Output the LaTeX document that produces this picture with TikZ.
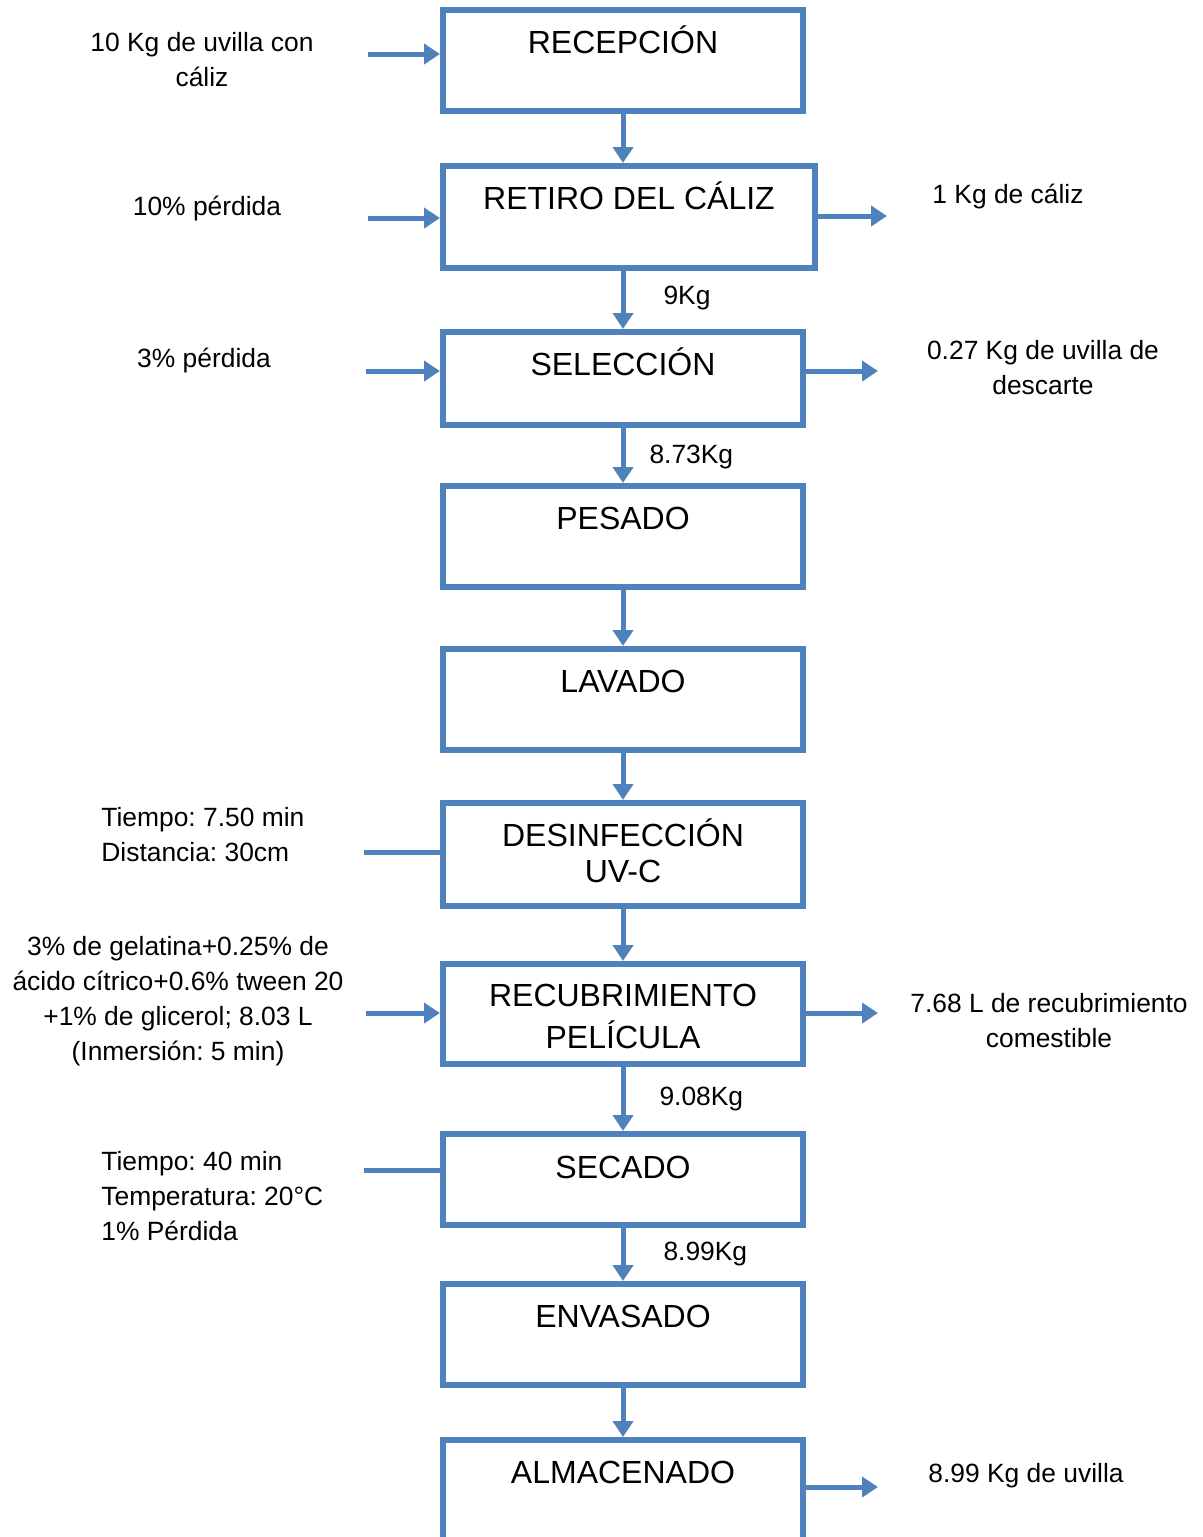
\documentclass[tikz,border=0pt]{standalone}
\usepackage{fontspec}
\setmainfont{Liberation Sans}
\usepackage{tikz}
\usetikzlibrary{arrows.meta,positioning}
\definecolor{flowblue}{HTML}{4F81BD}
\newcommand{\titlefont}{\fontsize{16}{18}\selectfont}
\newcommand{\sidefont}{\fontsize{13.2}{17.5}\selectfont}
\frenchspacing

\begin{document}
\begin{tikzpicture}[x=0.5pt,y=-0.5pt,
  box/.style={draw=flowblue,line width=3pt,minimum width=180pt,minimum height=50.5pt},
  title/.style={font=\titlefont,align=center,inner sep=0pt,text height=0.716em,anchor=north,yshift=0.358em-2pt},
  mtitle/.style={font=\titlefont,align=center,inner sep=0pt,anchor=base,yshift=-0.358em-1.5pt},
  side/.style={font=\sidefont,align=center,inner sep=0pt,text height=0.716em,anchor=north,yshift=0.358em-1pt},
  mside/.style={font=\sidefont,align=center,inner sep=0pt,anchor=base,yshift=-0.358em-1pt},
  msideleft/.style={mside,align=left,anchor=base west},
  wt/.style={font=\sidefont,inner sep=0pt,anchor=west},
  arr/.style={draw=flowblue,line width=2.5pt,-{Triangle[length=8pt,width=10pt]}},
  ln/.style={draw=flowblue,line width=2.5pt}
]
\useasboundingbox (0,0) rectangle (1203,1537);

% process boxes
\node[box] (recep) at (623,60.5) {};
\node[box,minimum width=186pt,minimum height=51pt] (retiro) at (629,217) {};
\node[box,minimum height=46.5pt] (selec) at (623,378.5) {};
\node[box] (pesado) at (623,536.5) {};
\node[box] (lavado) at (623,699.5) {};
\node[box,minimum height=51.5pt] (desinf) at (623,854.5) {};
\node[box,minimum height=50pt] (recub) at (623,1014) {};
\node[box,minimum height=45.5pt] (secado) at (623,1179.5) {};
\node[box] (envas) at (623,1334.5) {};
\node[box,minimum height=100pt] (almac) at (623,1540) {};

% box titles (multi-line ones placed by their last line)
\node[title] at (623,42) {RECEPCIÓN};
\node[title] at (629,198) {RETIRO DEL CÁLIZ};
\node[title] at (623,364) {SELECCIÓN};
\node[title] at (623,518) {PESADO};
\node[title] at (623,681) {LAVADO};
\node[mtitle] at (623,872) {DESINFECCIÓN\\UV-C};
\node[mtitle,font=\fontsize{16}{21}\selectfont] at (623,1038) {RECUBRIMIENTO\\PELÍCULA};
\node[title] at (623,1167) {SECADO};
\node[title] at (623,1316) {ENVASADO};
\node[title] at (623,1472) {ALMACENADO};

% main flow
\draw[arr] (recep.south) -- (recep.south |- retiro.north);
\draw[arr] (retiro.south -| selec) -- node[wt,right=19pt,yshift=1pt]{9Kg} (selec.north);
\draw[arr] (selec) -- node[wt,right=12pt,yshift=-1pt]{8.73Kg} (pesado);
\draw[arr] (pesado) -- (lavado);
\draw[arr] (lavado) -- (desinf);
\draw[arr] (desinf) -- (recub);
\draw[arr] (recub) -- node[wt,right=17pt]{9.08Kg} (secado);
\draw[arr] (secado) -- node[wt,right=19pt]{8.99Kg} (envas);
\draw[arr] (envas) -- (almac);

% inputs
\node[mside] (inrecep) at (202,77) {10 Kg de uvilla con\\cáliz};
\node[side] (inretiro) at (207,206) {10\% pérdida};
\node[side] (inselec) at (204,358) {3\% pérdida};
\node[msideleft] (indesinf) at (101,852) {Tiempo: 7.50 min\\Distancia: 30cm};
\node[mside] (inrecub) at (178,1051) {3\% de gelatina+0.25\% de\\ácido cítrico+0.6\% tween 20\\+1\% de glicerol; 8.03 L\\(Inmersión: 5 min)};
\node[msideleft] (insecado) at (101,1231) {Tiempo: 40 min\\Temperatura: 20°C\\1\% Pérdida};

\coordinate (a1) at (368,54);
\coordinate (a2) at (368,218);
\coordinate (a3) at (366,371);
\coordinate (a4) at (364,852);
\coordinate (a5) at (366,1013);
\coordinate (a6) at (364,1170);
\draw[arr] (a1) -- (a1 -| recep.west);
\draw[arr] (a2) -- (a2 -| retiro.west);
\draw[arr] (a3) -- (a3 -| selec.west);
\draw[ln] (a4) -- (a4 -| desinf.west);
\draw[arr] (a5) -- (a5 -| recub.west);
\draw[ln] (a6) -- (a6 -| secado.west);

% outputs
\node[side] (outretiro) at (1008,194) {1 Kg de cáliz};
\node[mside] (outselec) at (1043,385) {0.27 Kg de uvilla de\\descarte};
\node[mside] (outrecub) at (1049,1038) {7.68 L de recubrimiento\\comestible};
\node[side] (outalmac) at (1026,1473) {8.99 Kg de uvilla};

\coordinate (b1) at (887,216);
\coordinate (b2) at (878,371);
\coordinate (b3) at (878,1013);
\coordinate (b4) at (878,1487);
\draw[arr] (b1 -| retiro.east) -- (b1);
\draw[arr] (b2 -| selec.east) -- (b2);
\draw[arr] (b3 -| recub.east) -- (b3);
\draw[arr] (b4 -| almac.east) -- (b4);
\end{tikzpicture}
\end{document}
